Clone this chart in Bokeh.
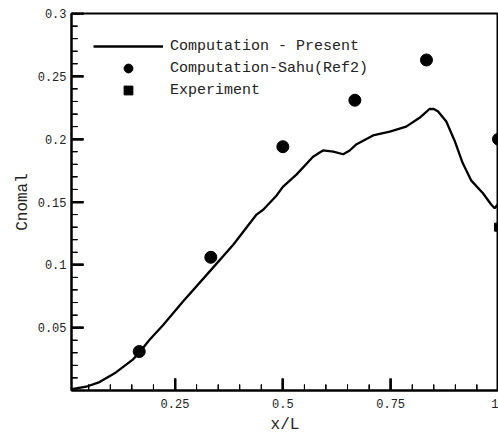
import math
from bokeh.plotting import figure
from bokeh.models import FixedTicker, Range1d, Legend, LegendItem, Arrow
from bokeh.embed import file_html
from bokeh.resources import INLINE

# Computation - Present (curve)
present_x = [0.010, 0.044, 0.075, 0.113, 0.152, 0.167, 0.190, 0.222, 0.269, 0.331,
             0.385, 0.439, 0.455, 0.485, 0.500, 0.532, 0.570, 0.593, 0.617,
             0.640, 0.655, 0.671, 0.709, 0.748, 0.786, 0.817, 0.830, 0.840, 0.850,
             0.860, 0.879, 0.898, 0.917, 0.937, 0.964, 0.983, 0.991, 0.998]
present_y = [0.001, 0.003, 0.0067, 0.0144, 0.0246, 0.030, 0.040, 0.052, 0.071, 0.095,
             0.116, 0.140, 0.144, 0.155, 0.162, 0.172, 0.186, 0.191, 0.190,
             0.188, 0.191, 0.196, 0.203, 0.206, 0.210, 0.217, 0.221, 0.224, 0.224,
             0.222, 0.214, 0.199, 0.181, 0.167, 0.157, 0.148, 0.145, 0.148]

# Computation-Sahu (Ref2)
sahu_x = [0.167, 0.333, 0.500, 0.667, 0.833, 1.000]
sahu_y = [0.031, 0.106, 0.194, 0.231, 0.263, 0.200]

# Experiment
exp_x = [1.000]
exp_y = [0.130]

x_ticks = [0.25, 0.5, 0.75, 1.0]
x_tick_labels = ["0.25", "0.5", "0.75", "1"]
y_ticks = [0.05, 0.1, 0.15, 0.2, 0.25, 0.3]
y_tick_labels = ["0.05", "0.1", "0.15", "0.2", "0.25", "0.3"]
x_minor = [round(0.05 * i, 2) for i in range(1, 21)]
y_minor = [round(0.01 * i, 2) for i in range(1, 31)]

X_START, X_END = 0.01, 1.0
Y_START, Y_END = 0.0, 0.3

W, H = 498, 436
BORDER_L, BORDER_R, BORDER_T, BORDER_B = 71, 0, 13, 34
FRAME_W = W - BORDER_L - BORDER_R
FRAME_H = H - BORDER_T - BORDER_B
MAJOR_LEN, MINOR_LEN = 12, 6

FONT = "Liberation Mono"
TXT = "#222222"

p = figure(width=W, height=H, output_backend="svg", toolbar_location=None,
           x_range=Range1d(X_START, X_END), y_range=Range1d(Y_START, Y_END),
           min_border_left=BORDER_L, min_border_right=BORDER_R,
           min_border_top=BORDER_T, min_border_bottom=BORDER_B)
p.grid.visible = False
p.outline_line_color = "black"
p.outline_line_width = 2

ln = p.line(present_x, present_y, line_color="black", line_width=2.3)
sc = p.scatter(sahu_x, sahu_y, marker="circle", size=12, fill_color="black",
               line_color="black")
sq = p.scatter(exp_x, exp_y, marker="square", size=8, fill_color="black",
               line_color="black")

# inward ticks, placed at the tick values (rays)
p.ray(x=x_minor, y=[Y_START] * len(x_minor), length=MINOR_LEN, length_units="screen",
      angle=math.pi / 2, line_color="black", line_width=1)
p.ray(x=x_ticks, y=[Y_START] * len(x_ticks), length=MAJOR_LEN, length_units="screen",
      angle=math.pi / 2, line_color="black", line_width=2)
p.ray(x=[X_START] * len(y_minor), y=y_minor, length=MINOR_LEN, length_units="screen",
      angle=0, line_color="black", line_width=1)
p.ray(x=[X_START] * len(y_ticks), y=y_ticks, length=MAJOR_LEN, length_units="screen",
      angle=0, line_color="black", line_width=2)

# the same ticks again as annotations (lengths converted from pixels)
dx_per_px = (X_END - X_START) / FRAME_W
dy_per_px = (Y_END - Y_START) / FRAME_H
for t in x_minor:
    p.add_layout(Arrow(end=None, x_start=t, y_start=Y_START, x_end=t,
                       y_end=Y_START + MINOR_LEN * dy_per_px,
                       line_color="black", line_width=1))
for t in x_ticks:
    p.add_layout(Arrow(end=None, x_start=t, y_start=Y_START, x_end=t,
                       y_end=Y_START + MAJOR_LEN * dy_per_px,
                       line_color="black", line_width=2))
for t in y_minor:
    p.add_layout(Arrow(end=None, x_start=X_START, y_start=t,
                       x_end=X_START + MINOR_LEN * dx_per_px, y_end=t,
                       line_color="black", line_width=1))
for t in y_ticks:
    p.add_layout(Arrow(end=None, x_start=X_START, y_start=t,
                       x_end=X_START + MAJOR_LEN * dx_per_px, y_end=t,
                       line_color="black", line_width=2))

for ax, ticks, minor, labels in ((p.xaxis[0], x_ticks, x_minor, x_tick_labels),
                                 (p.yaxis[0], y_ticks, y_minor, y_tick_labels)):
    ax.ticker = FixedTicker(ticks=ticks, minor_ticks=minor)
    ax.major_label_overrides = {t: l for t, l in zip(ticks, labels)}
    ax.axis_line_width = 2
    ax.axis_line_color = "black"
    ax.major_tick_in = MAJOR_LEN
    ax.major_tick_out = 0
    ax.major_tick_line_width = 2
    ax.minor_tick_in = MINOR_LEN
    ax.minor_tick_out = 0
    ax.minor_tick_line_width = 1
    ax.major_label_text_font = FONT
    ax.major_label_text_font_size = "12px"
    ax.major_label_text_color = TXT
    ax.axis_label_text_font = FONT
    ax.axis_label_text_font_size = "16px"
    ax.axis_label_text_font_style = "normal"
    ax.axis_label_text_color = TXT

p.xaxis.axis_label = "x/L"
p.yaxis.axis_label = "Cnomal"
p.xaxis.major_label_standoff = 8
p.yaxis.major_label_standoff = 5
p.xaxis.axis_label_standoff = 5
p.yaxis.axis_label_standoff = 3

legend = Legend(items=[
    LegendItem(label="Computation - Present", renderers=[ln]),
    LegendItem(label="Computation-Sahu(Ref2)", renderers=[sc]),
    LegendItem(label="Experiment", renderers=[sq]),
], location="top_left")
legend.border_line_color = None
legend.background_fill_alpha = 0
legend.margin = 22
legend.padding = 0
legend.spacing = 0
legend.glyph_width = 70
legend.glyph_height = 22
legend.label_height = 22
legend.label_standoff = 7
legend.label_text_font = FONT
legend.label_text_font_size = "15px"
legend.label_text_color = TXT
p.add_layout(legend)

open("out.html", "w").write(file_html(p, INLINE))
